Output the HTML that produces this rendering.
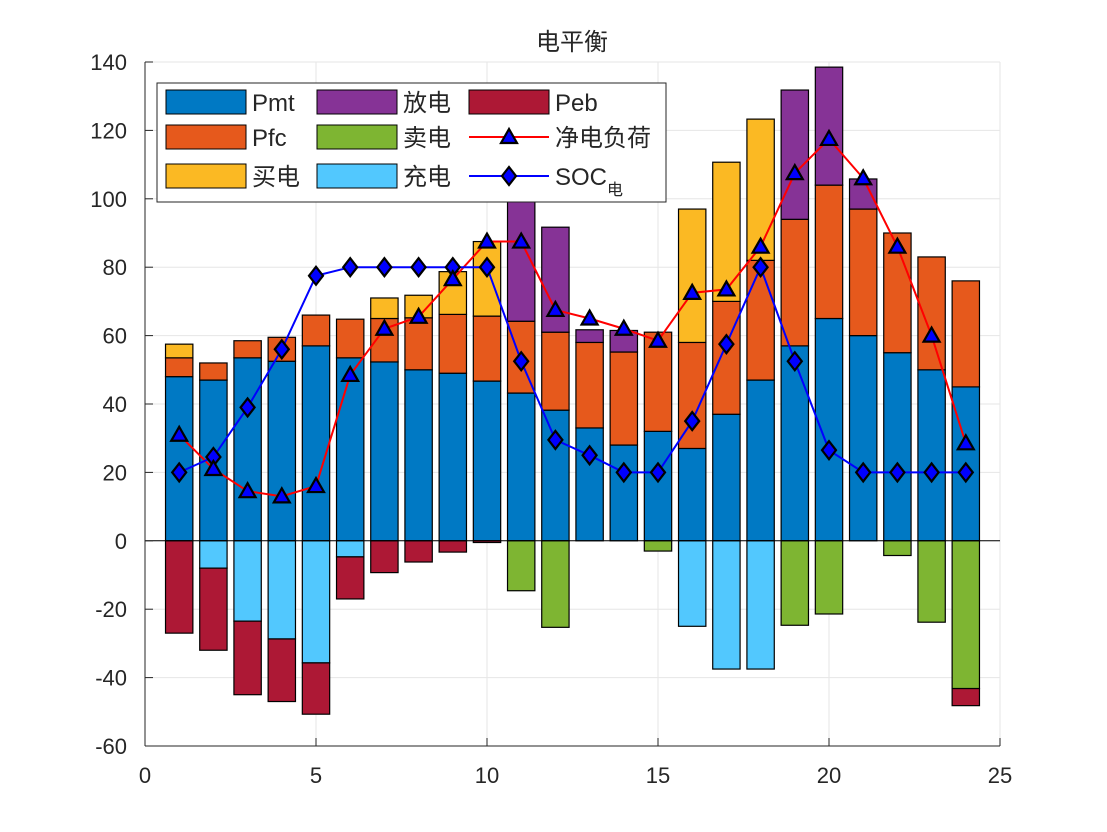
<!DOCTYPE html>
<html><head><meta charset="utf-8"><style>
body{margin:0;background:#fff;}
svg{display:block;font-family:"Liberation Sans","Noto Sans CJK SC",sans-serif;}
</style></head><body>
<svg id="chart" width="1107" height="832" viewBox="0 0 1107 832" xmlns="http://www.w3.org/2000/svg">
<rect width="1107" height="832" fill="#fff"/>
<text x="572" y="50" font-size="24" text-anchor="middle" fill="#262626" font-family="Noto Sans CJK SC, sans-serif">电平衡</text>
<g id="grid"></g><g id="bars"></g><g id="lines"></g><g id="axes"></g><g id="legend"></g>
</svg>
<script>
const hours=[1,2,3,4,5,6,7,8,9,10,11,12,13,14,15,16,17,18,19,20,21,22,23,24];
const pmt=[48,47,53.5,52.5,57,53.5,52.3,50,49,46.7,43.2,38.2,33,28,32,27,37,47,57,65,60,55,50,45];
const pfc=[5.5,5,5,7,9,11.3,12.7,15.2,17.2,19,21,22.8,25,27.2,29,31,33,35,37,39,37,35,33,31];
const buy=[4,0,0,0,0,0,6,6.6,12.5,21.8,0,0,0,0,0,39,40.7,41.3,0,0,0,0,0,0];
const discharge=[0,0,0,0,0,0,0,0,0,0,35,30.7,3.7,6.3,0,0,0,0,37.8,34.5,8.8,0,0,0];
const charge=[0,-8,-23.5,-28.7,-35.7,-4.7,0,0,0,0,0,0,0,0,0,-25,-37.5,-37.5,0,0,0,0,0,0];
const sell=[0,0,0,0,0,0,0,0,0,0,-14.6,-25.3,0,0,-3,0,0,0,-24.7,-21.4,0,-4.3,-23.8,-43.2];
const peb=[-27,-24,-21.5,-18.3,-15,-12.3,-9.3,-6.2,-3.3,-0.5,0,0,0,0,0,0,0,0,0,0,0,0,0,-5];
const netLoad=[31,21,14.5,13,16,48.5,62,65.5,76.5,87.5,87.5,67.5,65,62,58.5,72.5,73.5,86,107.5,117.5,106,86,60,28.5];
const soc=[20,24.5,39,56,77.5,80,80,80,80,80,52.5,29.5,25,20,20,35,57.5,80,52.5,26.5,20,20,20,20];
const xTicks=[0,5,10,15,20,25];
const yTicks=[-60,-40,-20,0,20,40,60,80,100,120,140];

const NS="http://www.w3.org/2000/svg";
const L=145,R=1000,T=62,B=746;
const X=v=>L+(v-0)/(25-0)*(R-L);
const Y=v=>B-(v+60)/200*(B-T);
function mk(tag,attrs,parent){const e=document.createElementNS(NS,tag);for(const k in attrs)e.setAttribute(k,attrs[k]);parent.appendChild(e);return e;}
const grid=document.getElementById('grid'),bars=document.getElementById('bars'),lines=document.getElementById('lines'),axes=document.getElementById('axes'),legend=document.getElementById('legend');

xTicks.forEach(t=>{const g=mk('line',{x1:X(t),x2:X(t),y1:T,y2:B,stroke:'#e6e6e6','stroke-width':1},grid);

});
yTicks.forEach(t=>{const g=mk('line',{x1:L,x2:R,y1:Y(t),y2:Y(t),stroke:'#e6e6e6','stroke-width':1},grid);

});

const posSeries=[[pmt,'#0079C4','pmt'],[pfc,'#E6591C','pfc'],[buy,'#FBB923','buy'],[discharge,'#863396','discharge']];
const negSeries=[[charge,'#52C8FE','charge'],[sell,'#7EB532','sell'],[peb,'#AD1835','peb']];
const bw=0.8*(R-L)/25;
hours.forEach((h,i)=>{
  let base=0;
  posSeries.forEach(([arr,col,nm])=>{const v=arr[i];if(v<=0)return;
    const r=mk('rect',{x:X(h)-bw/2,y:Y(base+v),width:bw,height:Y(base)-Y(base+v),fill:col,stroke:'#000','stroke-width':1.2},bars);
    
    
    base+=v;});
  base=0;
  negSeries.forEach(([arr,col,nm])=>{const v=arr[i];if(v>=0)return;
    const r=mk('rect',{x:X(h)-bw/2,y:Y(base),width:bw,height:Y(base+v)-Y(base),fill:col,stroke:'#000','stroke-width':1.2},bars);
    
    
    base+=v;});
});
const zl=mk('line',{x1:L,x2:R,y1:Y(0),y2:Y(0),stroke:'#000','stroke-width':1},bars);



function tri(x,y,g){return mk('polygon',{points:`${x},${y-8} ${x-8},${y+6} ${x+8},${y+6}`,fill:'#0000FF',stroke:'#000','stroke-width':2.2},g);}
function dia(x,y,g){return mk('polygon',{points:`${x},${y-9} ${x+7},${y} ${x},${y+9} ${x-7},${y}`,fill:'#0000FF',stroke:'#000','stroke-width':2.2},g);}
const pl1=mk('polyline',{points:hours.map((h,i)=>X(h)+','+Y(netLoad[i])).join(' '),fill:'none',stroke:'#FF0000','stroke-width':2},lines);


const pl2=mk('polyline',{points:hours.map((h,i)=>X(h)+','+Y(soc[i])).join(' '),fill:'none',stroke:'#0000FF','stroke-width':2},lines);


hours.forEach((h,i)=>{const m=dia(X(h),Y(soc[i]),lines);

});
hours.forEach((h,i)=>{const m=tri(X(h),Y(netLoad[i]),lines);

});

const ax1=mk('line',{x1:L,x2:L,y1:T,y2:B,stroke:'#262626','stroke-width':1},axes);


const ax2=mk('line',{x1:L,x2:R,y1:B,y2:B,stroke:'#262626','stroke-width':1},axes);


xTicks.forEach(t=>{mk('line',{x1:X(t),x2:X(t),y1:B,y2:B-8,stroke:'#262626'},axes);
const tx=mk('text',{x:X(t),y:B+37,'font-size':22,'text-anchor':'middle',fill:'#262626'},axes);tx.textContent=t;

});
yTicks.forEach(t=>{mk('line',{x1:L,x2:L+8,y1:Y(t),y2:Y(t),stroke:'#262626'},axes);
const tx=mk('text',{x:L-18,y:Y(t)+8,'font-size':22,'text-anchor':'end',fill:'#262626'},axes);tx.textContent=t;

});

const lb=mk('rect',{x:157,y:83,width:509,height:119,fill:'#fff',stroke:'#262626','stroke-width':1},legend);


const legItems=[
 ['rect','#0079C4','Pmt',166,102],['rect','#E6591C','Pfc',166,137],['rect','#FBB923','买电',166,176],
 ['rect','#863396','放电',317,102],['rect','#7EB532','卖电',317,137],['rect','#52C8FE','充电',317,176],
 ['rect','#AD1835','Peb',469,102],['tri','#FF0000','净电负荷',469,137],['dia','#0000FF','SOC',469,176]];
legItems.forEach(([kind,col,label,x,y])=>{
  const g=mk('g',{},legend);
  
  
  if(kind==='rect'){mk('rect',{x:x,y:y-12,width:80,height:24,fill:col,stroke:'#000','stroke-width':1},g);}
  else{mk('line',{x1:x,x2:x+80,y1:y,y2:y,stroke:col,'stroke-width':2},g);
    if(kind==='tri')tri(x+40,y,g);else dia(x+40,y,g);}
  const t=mk('text',{x:x+86,y:y+9,'font-size':24,fill:'#262626'},g);
  t.textContent=label;
  if(label==='SOC'){const s=mk('tspan',{'font-size':16,dy:10},t);s.textContent='电';}
});
</script>
</body></html>
